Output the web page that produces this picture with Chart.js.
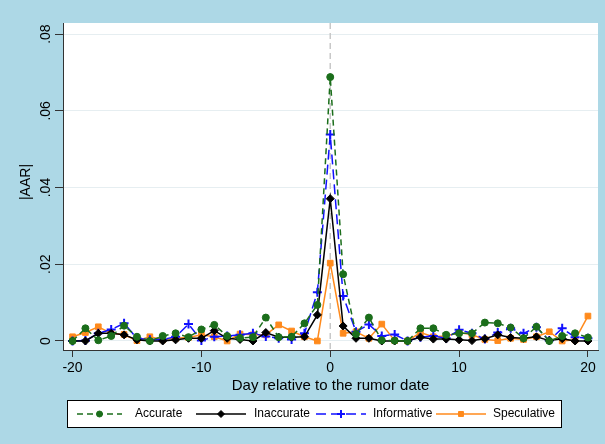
<!DOCTYPE html>
<html>
<head>
<meta charset="utf-8">
<script src="https://cdn.jsdelivr.net/npm/chart.js@4"></script>
<style>
  html, body { margin: 0; padding: 0; background: #add8e6; }
  #wrap { width: 605px; height: 444px; }
</style>
</head>
<body>
<div id="wrap"><canvas id="aarChart" width="605" height="444"></canvas></div>
<script>
// days relative to rumor date
const days = [-20,-19,-18,-17,-16,-15,-14,-13,-12,-11,-10,-9,-8,-7,-6,-5,-4,-3,-2,-1,0,
  1,2,3,4,5,6,7,8,9,10,11,12,13,14,15,16,17,18,19,20];

const accurate = [0.0000,0.0033,0.0002,0.0013,0.0040,0.0011,0.0000,0.0013,0.0020,0.0010,0.0030,
  0.0042,0.0013,0.0008,0.0010,0.0061,0.0010,0.0011,0.0046,0.0094,0.0688,
  0.0174,0.0018,0.0061,0.0002,0.0001,0.0000,0.0033,0.0033,0.0016,0.0020,
  0.0020,0.0048,0.0046,0.0035,0.0007,0.0037,0.0000,0.0013,0.0020,0.0009];

const inaccurate = [0.0000,0.0000,0.0020,0.0020,0.0016,0.0003,0.0000,0.0000,0.0003,0.0007,0.0007,
  0.0027,0.0007,0.0004,0.0000,0.0022,0.0010,0.0010,0.0011,0.0068,0.0371,
  0.0039,0.0007,0.0007,0.0000,0.0000,0.0000,0.0010,0.0005,0.0005,0.0003,
  0.0001,0.0006,0.0016,0.0009,0.0007,0.0011,0.0001,0.0006,0.0000,0.0000];

const informative = [0.0000,0.0001,0.0020,0.0030,0.0046,0.0007,0.0003,0.0004,0.0011,0.0044,0.0001,
  0.0011,0.0013,0.0016,0.0020,0.0012,0.0007,0.0004,0.0020,0.0127,0.0538,
  0.0117,0.0024,0.0043,0.0013,0.0017,0.0000,0.0010,0.0013,0.0007,0.0029,
  0.0020,0.0005,0.0022,0.0033,0.0020,0.0036,0.0001,0.0033,0.0010,0.0007];

const speculative = [0.0011,0.0022,0.0037,0.0020,0.0017,0.0001,0.0011,0.0003,0.0007,0.0009,0.0016,
  0.0011,0.0000,0.0018,0.0016,0.0016,0.0042,0.0026,0.0011,0.0000,0.0203,
  0.0020,0.0024,0.0007,0.0044,0.0001,0.0000,0.0022,0.0011,0.0013,0.0022,
  0.0016,0.0004,0.0001,0.0007,0.0004,0.0011,0.0024,0.0000,0.0003,0.0065];

const xTicks = [-20, -10, 0, 10, 20];
const yTicks = [0, 0.02, 0.04, 0.06, 0.08];
const yTickLabels = ["0", ".02", ".04", ".06", ".08"];

const FONT = "'Liberation Sans', Arial, sans-serif";

function pts(vals) {
  return days.map((d, i) => ({ x: d, y: vals[i] }));
}

const series = [
  { label: "Accurate", data: accurate, color: "#1b6e1b", dash: [6, 4], style: "circle", r: 3.5, bw: 1 },
  { label: "Inaccurate", data: inaccurate, color: "#000000", dash: [], style: "rectRot", r: 4, bw: 1 },
  { label: "Informative", data: informative, color: "#1010ff", dash: [10, 5], style: "cross", r: 4.5, bw: 2 },
  { label: "Speculative", data: speculative, color: "#ff8a1c", dash: [], style: "rect", r: 4, bw: 1 }
];

// white plot region + dashed zero line
const plotBg = {
  id: "plotBg",
  beforeDraw(chart) {
    const { ctx, chartArea: a } = chart;
    ctx.save();
    ctx.fillStyle = "#add8e6";
    ctx.fillRect(0, 0, chart.width, chart.height);
    ctx.fillStyle = "#ffffff";
    ctx.fillRect(a.left, a.top, a.right - a.left, a.bottom - a.top);
    ctx.restore();
  },
  beforeDatasetsDraw(chart) {
    const { ctx, chartArea: a, scales } = chart;
    const x0 = scales.x.getPixelForValue(0);
    ctx.save();
    ctx.strokeStyle = "#c8c8c8";
    ctx.lineWidth = 1.5;
    ctx.setLineDash([6, 4]);
    ctx.beginPath();
    ctx.moveTo(x0, a.top);
    ctx.lineTo(x0, a.bottom);
    ctx.stroke();
    ctx.restore();
  }
};

// rotated y labels, axis titles and boxed legend
const decor = {
  id: "decor",
  afterDraw(chart) {
    const { ctx, chartArea: a, scales } = chart;
    ctx.save();
    ctx.fillStyle = "#000";
    ctx.font = "14px " + FONT;
    ctx.textAlign = "center";
    ctx.textBaseline = "middle";
    yTicks.forEach((v, i) => {
      const y = scales.y.getPixelForValue(v);
      ctx.save();
      ctx.translate(46, y);
      ctx.rotate(-Math.PI / 2);
      ctx.fillText(yTickLabels[i], 0, 0);
      ctx.restore();
    });

    // axis titles
    ctx.save();
    ctx.translate(26, 182);
    ctx.rotate(-Math.PI / 2);
    ctx.fillText("|AAR|", 0, 0);
    ctx.restore();
    ctx.font = "15px " + FONT;
    ctx.fillText("Day relative to the rumor date", (a.left + a.right) / 2, 386);

    // legend
    ctx.fillStyle = "#fff";
    ctx.fillRect(67.5, 400.5, 494, 27);
    ctx.strokeStyle = "#000";
    ctx.lineWidth = 1;
    ctx.setLineDash([]);
    ctx.strokeRect(67.5, 400.5, 494, 27);
    const items = [
      { x1: 77, x2: 122, tx: 135 },
      { x1: 196, x2: 246, tx: 254 },
      { x1: 316, x2: 366, tx: 373 },
      { x1: 436, x2: 486, tx: 493 }
    ];
    const ly = 414;
    items.forEach((it, i) => {
      const s = series[i];
      ctx.strokeStyle = s.color;
      ctx.lineWidth = 1.5;
      ctx.setLineDash(s.dash);
      ctx.beginPath();
      ctx.moveTo(it.x1, ly);
      ctx.lineTo(it.x2, ly);
      ctx.stroke();
      ctx.setLineDash([]);
      ctx.fillStyle = s.color;
      ctx.strokeStyle = s.color;
      ctx.lineWidth = s.bw;
      Chart.helpers.drawPoint(ctx, {
        pointStyle: s.style, radius: s.r - 0.5, borderWidth: s.bw, rotation: 0
      }, (it.x1 + it.x2) / 2, ly);
      ctx.fillStyle = "#000";
      ctx.font = "12px " + FONT;
      ctx.textAlign = "left";
      ctx.fillText(s.label, it.tx, ly);
    });
    ctx.restore();
  }
};

const ctx = document.getElementById("aarChart").getContext("2d");
new Chart(ctx, {
  type: "line",
  data: {
    datasets: series.map(s => ({
      label: s.label,
      data: pts(s.data),
      borderColor: s.color,
      backgroundColor: s.color,
      borderWidth: 1.5,
      borderDash: s.dash,
      pointStyle: s.style,
      pointRadius: s.r,
      pointBorderWidth: s.bw,
      pointBackgroundColor: s.color,
      pointBorderColor: s.color,
      tension: 0,
      fill: false
    }))
  },
  options: {
    responsive: false,
    animation: false,
    devicePixelRatio: 1,
    layout: { padding: { top: 23, right: 7, left: 0, bottom: 0 } },
    plugins: {
      legend: { display: false },
      tooltip: { enabled: false }
    },
    scales: {
      x: {
        type: "linear",
        min: -20.74,
        max: 20.78,
        afterBuildTicks: scale => { scale.ticks = xTicks.map(v => ({ value: v })); },
        afterFit: scale => { scale.height = 94; },
        grid: { drawOnChartArea: false, drawTicks: true, tickLength: 7, tickColor: "#333", tickWidth: 1 },
        border: { color: "#333", width: 1 },
        ticks: { color: "#000", font: { family: FONT, size: 14 }, padding: 3, maxRotation: 0 }
      },
      y: {
        type: "linear",
        min: -0.00235,
        max: 0.0829,
        afterBuildTicks: scale => { scale.ticks = yTicks.map(v => ({ value: v })); },
        afterFit: scale => { scale.width = 63; },
        grid: { color: "#e6eef1", lineWidth: 1, drawTicks: true, tickLength: 8, tickColor: "#333", tickWidth: 1 },
        border: { color: "#333", width: 1 },
        ticks: { display: false }
      }
    }
  },
  plugins: [plotBg, decor]
});
</script>
</body>
</html>
